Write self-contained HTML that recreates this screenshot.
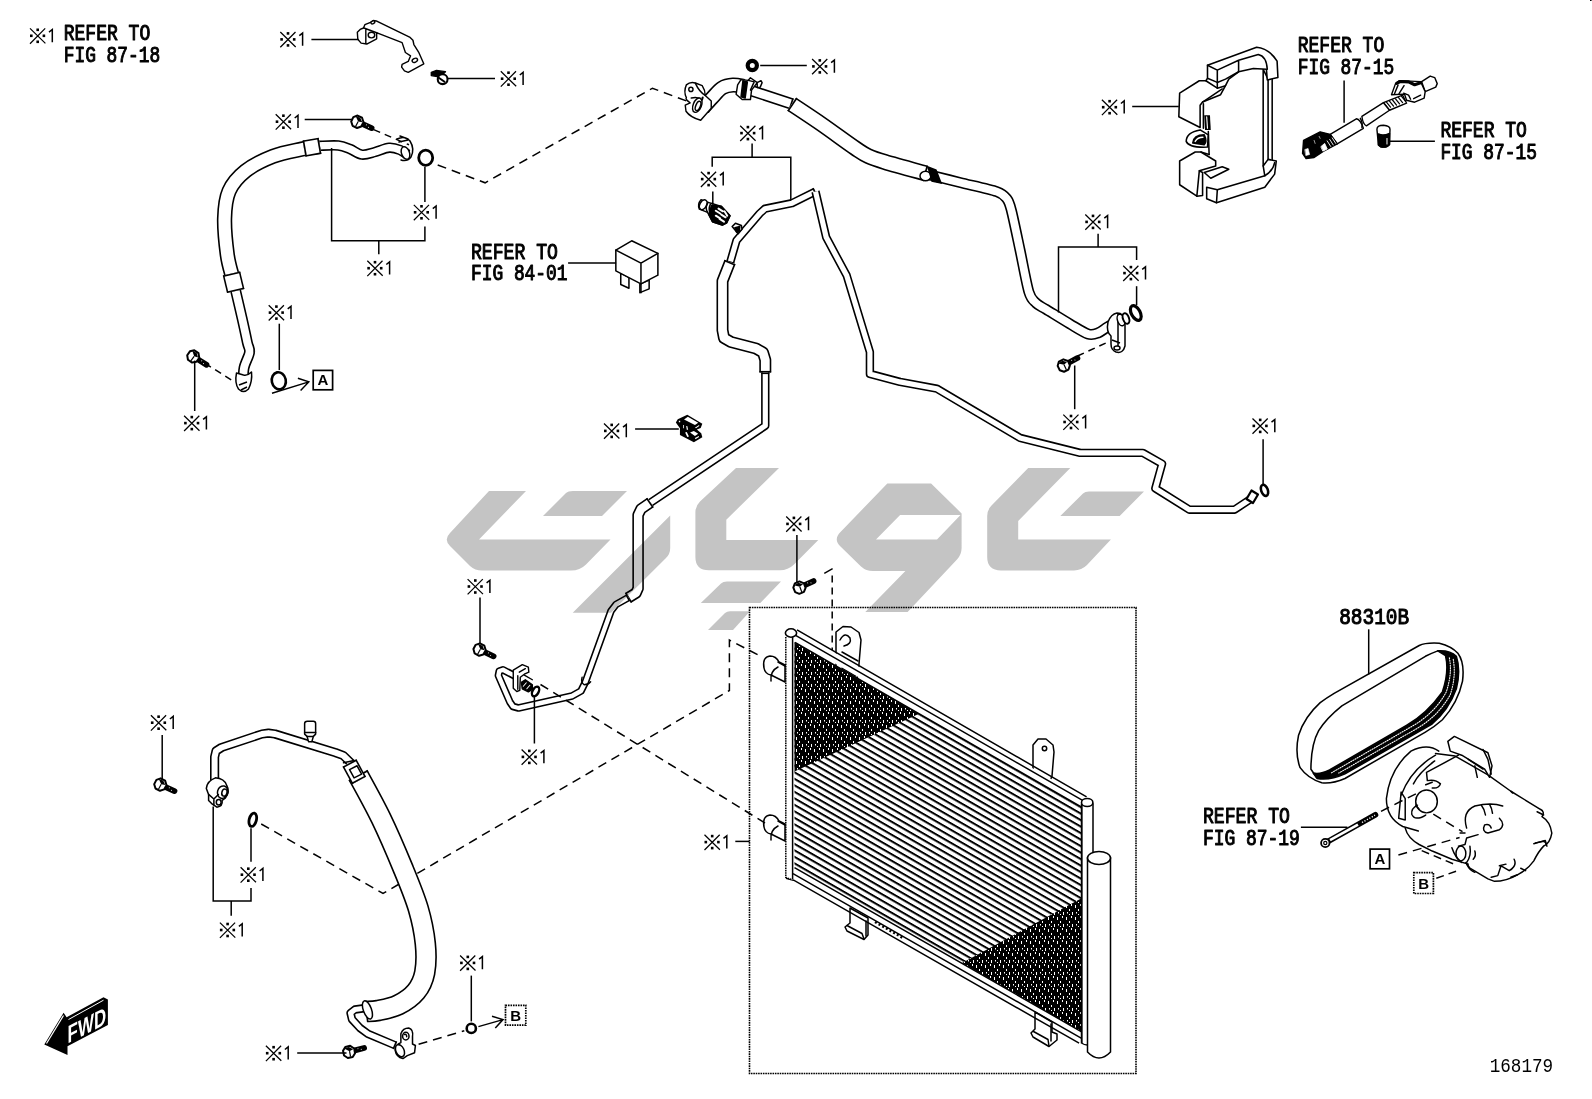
<!DOCTYPE html>
<html><head><meta charset="utf-8"><title>168179</title>
<style>
html,body{margin:0;padding:0;background:#fff;}
svg{display:block;}
.t{font-family:"Liberation Mono",monospace;font-weight:normal;font-size:18px;fill:#000;stroke:#000;stroke-width:0.85px;stroke-linejoin:round;}
.n{font-family:"Liberation Sans",sans-serif;font-size:17.5px;fill:#000;}
.ln{stroke:#000;stroke-width:1.5;fill:none;}
.dl{stroke:#000;stroke-width:1.5;fill:none;stroke-dasharray:9 6;}
.p{stroke:#000;stroke-width:1.5;fill:#fff;stroke-linejoin:round;stroke-linecap:round;}
.o{stroke:#000;stroke-width:1.5;fill:none;stroke-linejoin:round;stroke-linecap:round;}
.k{fill:#000;stroke:none;}
</style></head><body>
<svg width="1592" height="1099" viewBox="0 0 1592 1099">
<rect width="1592" height="1099" fill="#fff"/>
<rect x="1590" y="0" width="1.6" height="1" fill="#000"/>
<!-- defs.svg -->
<defs>
  <g id="ast">
    <path d="M0.3,0.5 L15.7,15.5 M15.5,0.5 L0.3,15.8" stroke="#000" stroke-width="1.25" fill="none"/>
    <rect x="6.7" y="0.6" width="2.6" height="2.6" fill="#000"/>
    <rect x="0.3" y="6.6" width="2.6" height="2.6" fill="#000"/>
    <rect x="12.9" y="6.6" width="2.6" height="2.6" fill="#000"/>
    <rect x="6.7" y="12.6" width="2.6" height="2.6" fill="#000"/>
    <path d="M19.3,4.2 L22.6,1.6 L22.6,14.3" stroke="#000" stroke-width="1.5" fill="none"/>
  </g>
  <!-- generic small bolt: head at origin, thread to the right/up -->
  <g id="bolt">
    <path d="M4,0 L15.5,0" stroke="#000" stroke-width="5.8" fill="none" stroke-linecap="round"/>
    <path d="M9,-0.8 L9.8,-0.8 M12,0.6 L12.8,0.6" stroke="#fff" stroke-width="1" fill="none"/>
    <path d="M-5.6,-2.6 L-2.4,-5.8 L2.6,-5.6 L5.8,-2 L5.4,2.8 L2.2,5.8 L-2.8,5.6 L-5.8,2.2 Z" fill="#fff" stroke="#000" stroke-width="2" stroke-linejoin="round"/>
    <path d="M-4,-4.5 L1,-4.8 L4.6,-1.6 L0.6,-0.6 Z" fill="#000"/>
    <path d="M0.6,-0.6 L0.2,5" stroke="#000" stroke-width="1.2" fill="none"/>
  </g>
  <pattern id="fins" width="40" height="6.5" patternUnits="userSpaceOnUse" patternTransform="translate(794.5,641.2) skewY(29.92)">
    <rect x="0" y="0" width="40" height="2.3" fill="#000"/>
  </pattern>
  <pattern id="specks" width="9" height="12" patternUnits="userSpaceOnUse" patternTransform="translate(795,640)">
    <rect width="9" height="12" fill="#000"/>
    <rect x="1" y="1" width="1" height="3" fill="#fff"/>
    <rect x="4" y="5" width="1" height="2" fill="#fff"/>
    <rect x="6" y="0" width="1" height="2" fill="#fff"/>
    <rect x="2" y="8" width="1" height="1.5" fill="#fff"/>
    <rect x="7" y="8" width="1" height="3" fill="#fff"/>
    <rect x="4" y="10" width="1" height="1" fill="#fff"/>
  </pattern>
</defs>

<!-- under.svg -->
<g class="dl" stroke-width="1.4">
  <path d="M261.2,824 L383,893.5 L729.4,690.5 L729.4,640 L762,657"/>
</g>

<!-- hoses.svg -->
<g>
<path d="M318.0,145.8 C321.4,145.8 333.0,145.0 338.3,145.5 C343.6,146.0 346.1,147.5 350.0,149.0 C353.9,150.5 357.7,154.1 361.9,154.6 C366.1,155.1 370.4,153.2 375.0,152.0 C379.6,150.8 385.0,148.0 389.2,147.7 C393.4,147.4 397.1,148.8 400.1,150.0 C403.1,151.2 406.2,153.8 407.4,154.6" fill="none" stroke="#000" stroke-width="10.5" stroke-linejoin="round" stroke-linecap="butt"/>
<path d="M318.0,145.8 C321.4,145.8 333.0,145.0 338.3,145.5 C343.6,146.0 346.1,147.5 350.0,149.0 C353.9,150.5 357.7,154.1 361.9,154.6 C366.1,155.1 370.4,153.2 375.0,152.0 C379.6,150.8 385.0,148.0 389.2,147.7 C393.4,147.4 397.1,148.8 400.1,150.0 C403.1,151.2 406.2,153.8 407.4,154.6" fill="none" stroke="#fff" stroke-width="7.3" stroke-linejoin="round" stroke-linecap="butt"/>
<path d="M318.9,150.8 L318.7,140.7" stroke="#000" stroke-width="1.6" fill="none"/>
<path d="M409.4,149.9 L404.0,158.4" stroke="#000" stroke-width="1.6" fill="none"/>
<path d="M235.0,288.0 C236.2,293.0 239.9,308.9 242.0,318.0 C244.1,327.1 246.2,337.1 247.4,342.8 C248.7,348.5 250.1,348.2 249.5,352.4 C248.9,356.6 245.0,362.8 244.0,368.0 C243.0,373.2 243.4,381.2 243.3,383.8" fill="none" stroke="#000" stroke-width="11.0" stroke-linejoin="round" stroke-linecap="butt"/>
<path d="M235.0,288.0 C236.2,293.0 239.9,308.9 242.0,318.0 C244.1,327.1 246.2,337.1 247.4,342.8 C248.7,348.5 250.1,348.2 249.5,352.4 C248.9,356.6 245.0,362.8 244.0,368.0 C243.0,373.2 243.4,381.2 243.3,383.8" fill="none" stroke="#fff" stroke-width="7.8" stroke-linejoin="round" stroke-linecap="butt"/>
<path d="M230.0,290.0 L240.3,287.6" stroke="#000" stroke-width="1.6" fill="none"/>
<path d="M248.6,383.2 L238.0,382.8" stroke="#000" stroke-width="1.6" fill="none"/>
<path d="M319.2,146.4 C316.3,146.8 309.6,147.4 301.9,149.1 C294.2,150.8 282.2,152.8 272.8,156.4 C263.4,160.1 252.8,165.2 245.5,171.0 C238.2,176.8 232.6,183.1 229.1,191.0 C225.6,198.9 224.9,207.7 224.6,218.3 C224.3,228.9 226.0,244.9 227.3,254.7 C228.6,264.5 231.6,273.3 232.5,277.0" fill="none" stroke="#000" stroke-width="15.4" stroke-linejoin="round" stroke-linecap="butt"/>
<path d="M319.2,146.4 C316.3,146.8 309.6,147.4 301.9,149.1 C294.2,150.8 282.2,152.8 272.8,156.4 C263.4,160.1 252.8,165.2 245.5,171.0 C238.2,176.8 232.6,183.1 229.1,191.0 C225.6,198.9 224.9,207.7 224.6,218.3 C224.3,228.9 226.0,244.9 227.3,254.7 C228.6,264.5 231.6,273.3 232.5,277.0" fill="none" stroke="#fff" stroke-width="12.2" stroke-linejoin="round" stroke-linecap="butt"/>
<path d="M317.3,139.1 L319.6,153.9" stroke="#000" stroke-width="1.6" fill="none"/>
<path d="M239.6,274.5 L225.0,277.9" stroke="#000" stroke-width="1.6" fill="none"/>
<path d="M231.5,273.5 L235.7,291.0" fill="none" stroke="#000" stroke-width="18.0" stroke-linejoin="round" stroke-linecap="butt"/>
<path d="M231.5,273.5 L235.7,291.0" fill="none" stroke="#fff" stroke-width="14.8" stroke-linejoin="round" stroke-linecap="butt"/>
<path d="M223.1,276.3 L240.2,272.2" stroke="#000" stroke-width="1.6" fill="none"/>
<path d="M244.1,288.2 L227.0,292.3" stroke="#000" stroke-width="1.6" fill="none"/>
<path d="M304.0,148.6 L320.0,145.8" fill="none" stroke="#000" stroke-width="16.5" stroke-linejoin="round" stroke-linecap="butt"/>
<path d="M304.0,148.6 L320.0,145.8" fill="none" stroke="#fff" stroke-width="13.3" stroke-linejoin="round" stroke-linecap="butt"/>
<path d="M306.2,156.4 L303.4,140.5" stroke="#000" stroke-width="1.6" fill="none"/>
<path d="M317.8,138.0 L320.6,153.9" stroke="#000" stroke-width="1.6" fill="none"/>
<path d="M703.0,108.0 C704.5,106.3 708.8,101.3 712.0,98.0 C715.2,94.7 718.5,90.2 722.0,88.0 C725.5,85.8 729.3,85.2 733.0,85.0 C736.7,84.8 742.2,86.2 744.0,86.5" fill="none" stroke="#000" stroke-width="15.0" stroke-linejoin="round" stroke-linecap="butt"/>
<path d="M703.0,108.0 C704.5,106.3 708.8,101.3 712.0,98.0 C715.2,94.7 718.5,90.2 722.0,88.0 C725.5,85.8 729.3,85.2 733.0,85.0 C736.7,84.8 742.2,86.2 744.0,86.5" fill="none" stroke="#fff" stroke-width="11.8" stroke-linejoin="round" stroke-linecap="butt"/>
<path d="M709.0,112.3 L698.1,102.5" stroke="#000" stroke-width="1.6" fill="none"/>
<path d="M744.2,79.2 L742.2,93.6" stroke="#000" stroke-width="1.6" fill="none"/>
<path d="M748.6,89.7 L792.0,104.0" fill="none" stroke="#000" stroke-width="11.5" stroke-linejoin="round" stroke-linecap="butt"/>
<path d="M748.6,89.7 L792.0,104.0" fill="none" stroke="#fff" stroke-width="8.3" stroke-linejoin="round" stroke-linecap="butt"/>
<path d="M747.6,95.2 L751.1,84.7" stroke="#000" stroke-width="1.6" fill="none"/>
<path d="M793.0,98.5 L789.5,109.0" stroke="#000" stroke-width="1.6" fill="none"/>
<path d="M930.0,175.0 C934.5,176.1 950.0,180.0 960.0,182.5 C970.0,185.0 989.8,189.1 996.8,191.6 C1003.8,194.1 1004.8,196.2 1007.0,199.0 C1009.2,201.8 1009.4,202.8 1011.4,210.5 C1013.4,218.2 1017.4,237.8 1020.0,250.0 C1022.6,262.2 1026.5,284.1 1028.9,292.0 C1031.3,299.9 1033.4,300.4 1036.0,303.0 C1038.6,305.6 1041.2,306.4 1046.3,309.5 C1051.4,312.6 1063.7,320.3 1070.0,324.0 C1076.3,327.7 1083.8,332.6 1088.0,334.0 C1092.2,335.4 1095.1,334.1 1098.0,333.0 C1100.9,331.9 1104.7,328.6 1107.5,327.0 C1110.3,325.4 1115.6,322.8 1117.0,322.0" fill="none" stroke="#000" stroke-width="11.0" stroke-linejoin="round" stroke-linecap="butt"/>
<path d="M930.0,175.0 C934.5,176.1 950.0,180.0 960.0,182.5 C970.0,185.0 989.8,189.1 996.8,191.6 C1003.8,194.1 1004.8,196.2 1007.0,199.0 C1009.2,201.8 1009.4,202.8 1011.4,210.5 C1013.4,218.2 1017.4,237.8 1020.0,250.0 C1022.6,262.2 1026.5,284.1 1028.9,292.0 C1031.3,299.9 1033.4,300.4 1036.0,303.0 C1038.6,305.6 1041.2,306.4 1046.3,309.5 C1051.4,312.6 1063.7,320.3 1070.0,324.0 C1076.3,327.7 1083.8,332.6 1088.0,334.0 C1092.2,335.4 1095.1,334.1 1098.0,333.0 C1100.9,331.9 1104.7,328.6 1107.5,327.0 C1110.3,325.4 1115.6,322.8 1117.0,322.0" fill="none" stroke="#fff" stroke-width="7.8" stroke-linejoin="round" stroke-linecap="butt"/>
<path d="M929.5,180.3 L932.1,170.1" stroke="#000" stroke-width="1.6" fill="none"/>
<path d="M1113.8,317.7 L1118.8,327.1" stroke="#000" stroke-width="1.6" fill="none"/>
<path d="M791.7,104.2 C796.8,107.6 811.5,117.2 822.0,124.5 C832.5,131.8 847.3,142.8 855.0,148.0 C862.7,153.2 863.0,153.7 868.0,156.0 C873.0,158.3 875.3,159.1 885.0,162.0 C894.7,164.9 919.2,171.6 926.0,173.5" fill="none" stroke="#000" stroke-width="16.0" stroke-linejoin="round" stroke-linecap="butt"/>
<path d="M791.7,104.2 C796.8,107.6 811.5,117.2 822.0,124.5 C832.5,131.8 847.3,142.8 855.0,148.0 C862.7,153.2 863.0,153.7 868.0,156.0 C873.0,158.3 875.3,159.1 885.0,162.0 C894.7,164.9 919.2,171.6 926.0,173.5" fill="none" stroke="#fff" stroke-width="12.8" stroke-linejoin="round" stroke-linecap="butt"/>
<path d="M788.0,111.1 L796.7,98.2" stroke="#000" stroke-width="1.6" fill="none"/>
<path d="M927.3,165.8 L923.1,180.8" stroke="#000" stroke-width="1.6" fill="none"/>
<path d="M815.5,191.5 L792.0,203.2 L765.0,208.7 L759.7,213.5 L736.5,240.5 L730.0,263.0" fill="none" stroke="#000" stroke-width="8.4" stroke-linejoin="round" stroke-linecap="butt"/>
<path d="M815.5,191.5 L792.0,203.2 L765.0,208.7 L759.7,213.5 L736.5,240.5 L730.0,263.0" fill="none" stroke="#fff" stroke-width="5.2" stroke-linejoin="round" stroke-linecap="butt"/>
<path d="M813.0,188.3 L816.6,195.4" stroke="#000" stroke-width="1.6" fill="none"/>
<path d="M734.1,263.3 L726.4,261.1" stroke="#000" stroke-width="1.6" fill="none"/>
<path d="M815.5,191.5 L826.2,237.3 L846.7,275.6 L869.9,352.0 L869.9,373.9 L900.0,381.9 L936.9,388.7 L1020.1,437.9 L1080.2,452.9 L1143.0,452.9 L1162.1,463.8 L1155.3,488.4 L1189.4,509.7 L1234.5,509.7 L1252.2,498.0" fill="none" stroke="#000" stroke-width="8.4" stroke-linejoin="round" stroke-linecap="butt"/>
<path d="M815.5,191.5 L826.2,237.3 L846.7,275.6 L869.9,352.0 L869.9,373.9 L900.0,381.9 L936.9,388.7 L1020.1,437.9 L1080.2,452.9 L1143.0,452.9 L1162.1,463.8 L1155.3,488.4 L1189.4,509.7 L1234.5,509.7 L1252.2,498.0" fill="none" stroke="#fff" stroke-width="5.2" stroke-linejoin="round" stroke-linecap="butt"/>
<path d="M1249.3,495.1 L1253.7,501.8" stroke="#000" stroke-width="1.6" fill="none"/>
<path d="M730.0,262.0 L722.5,281.0 L722.5,330.2 L724.0,338.0 L731.0,342.0 L756.0,348.5 L763.0,352.5 L765.3,360.0 L765.3,372.5" fill="none" stroke="#000" stroke-width="12.0" stroke-linejoin="round" stroke-linecap="butt"/>
<path d="M730.0,262.0 L722.5,281.0 L722.5,330.2 L724.0,338.0 L731.0,342.0 L756.0,348.5 L763.0,352.5 L765.3,360.0 L765.3,372.5" fill="none" stroke="#fff" stroke-width="8.8" stroke-linejoin="round" stroke-linecap="butt"/>
<path d="M724.3,260.6 L735.1,264.9" stroke="#000" stroke-width="1.6" fill="none"/>
<path d="M771.1,371.7 L759.5,371.7" stroke="#000" stroke-width="1.6" fill="none"/>
<path d="M765.3,372.5 L765.3,425.7 L650.0,503.0 L643.5,507.0 L640.0,510.0" fill="none" stroke="#000" stroke-width="8.4" stroke-linejoin="round" stroke-linecap="butt"/>
<path d="M765.3,372.5 L765.3,425.7 L650.0,503.0 L643.5,507.0 L640.0,510.0" fill="none" stroke="#fff" stroke-width="5.2" stroke-linejoin="round" stroke-linecap="butt"/>
<path d="M761.3,373.3 L769.3,373.3" stroke="#000" stroke-width="1.6" fill="none"/>
<path d="M643.2,512.5 L638.0,506.4" stroke="#000" stroke-width="1.6" fill="none"/>
<path d="M650.5,502.5 L641.0,509.0 L638.1,515.0 L638.1,588.4 L636.0,593.0 L627.9,598.0" fill="none" stroke="#000" stroke-width="11.5" stroke-linejoin="round" stroke-linecap="butt"/>
<path d="M650.5,502.5 L641.0,509.0 L638.1,515.0 L638.1,588.4 L636.0,593.0 L627.9,598.0" fill="none" stroke="#fff" stroke-width="8.3" stroke-linejoin="round" stroke-linecap="butt"/>
<path d="M646.7,498.4 L653.0,507.5" stroke="#000" stroke-width="1.6" fill="none"/>
<path d="M631.5,602.3 L625.7,592.9" stroke="#000" stroke-width="1.6" fill="none"/>
<path d="M628.5,597.5 L616.0,604.5 L611.0,611.0 L585.3,682.3 L581.0,691.0 L572.0,696.0 L518.5,708.0 L513.0,706.5 L509.9,702.0 L498.4,675.5 L499.3,671.0 L503.0,669.8 L516.0,676.5" fill="none" stroke="#000" stroke-width="7.6" stroke-linejoin="round" stroke-linecap="butt"/>
<path d="M628.5,597.5 L616.0,604.5 L611.0,611.0 L585.3,682.3 L581.0,691.0 L572.0,696.0 L518.5,708.0 L513.0,706.5 L509.9,702.0 L498.4,675.5 L499.3,671.0 L503.0,669.8 L516.0,676.5" fill="none" stroke="#fff" stroke-width="4.4" stroke-linejoin="round" stroke-linecap="butt"/>
<path d="M626.0,594.7 L629.6,601.0" stroke="#000" stroke-width="1.6" fill="none"/>
<path d="M516.9,672.9 L513.6,679.3" stroke="#000" stroke-width="1.6" fill="none"/>
<path d="M214.6,784.0 L214.6,757.0 L216.0,751.0 L221.5,747.5 L262.0,734.0 L268.5,733.1 L275.0,734.0 L335.5,752.6 L343.3,755.5 L352.0,764.0" fill="none" stroke="#000" stroke-width="9.2" stroke-linejoin="round" stroke-linecap="butt"/>
<path d="M214.6,784.0 L214.6,757.0 L216.0,751.0 L221.5,747.5 L262.0,734.0 L268.5,733.1 L275.0,734.0 L335.5,752.6 L343.3,755.5 L352.0,764.0" fill="none" stroke="#fff" stroke-width="6.0" stroke-linejoin="round" stroke-linecap="butt"/>
<path d="M219.0,783.2 L210.2,783.2" stroke="#000" stroke-width="1.6" fill="none"/>
<path d="M354.5,760.3 L348.4,766.6" stroke="#000" stroke-width="1.6" fill="none"/>
<path d="M366.0,1008.0 L355.0,1009.5 L350.5,1013.0 L352.0,1019.3 L360.0,1028.0 L368.0,1033.8 L395.6,1045.5" fill="none" stroke="#000" stroke-width="8.4" stroke-linejoin="round" stroke-linecap="butt"/>
<path d="M366.0,1008.0 L355.0,1009.5 L350.5,1013.0 L352.0,1019.3 L360.0,1028.0 L368.0,1033.8 L395.6,1045.5" fill="none" stroke="#fff" stroke-width="5.2" stroke-linejoin="round" stroke-linecap="butt"/>
<path d="M364.7,1004.1 L365.7,1012.1" stroke="#000" stroke-width="1.6" fill="none"/>
<path d="M396.4,1041.5 L393.3,1048.9" stroke="#000" stroke-width="1.6" fill="none"/>
<path d="M358.0,775.0 C361.9,782.2 373.6,803.0 381.1,818.5 C388.6,834.0 396.7,853.0 402.9,868.0 C409.1,883.0 414.6,896.1 418.3,908.7 C422.0,921.3 424.2,932.9 425.3,943.6 C426.4,954.3 426.2,964.7 424.7,972.7 C423.1,980.7 420.4,986.3 416.0,991.6 C411.6,996.9 404.8,1001.6 398.5,1004.7 C392.2,1007.9 383.6,1009.4 378.2,1010.5 C372.8,1011.6 368.0,1011.3 366.0,1011.5" fill="none" stroke="#000" stroke-width="21.7" stroke-linejoin="round" stroke-linecap="butt"/>
<path d="M358.0,775.0 C361.9,782.2 373.6,803.0 381.1,818.5 C388.6,834.0 396.7,853.0 402.9,868.0 C409.1,883.0 414.6,896.1 418.3,908.7 C422.0,921.3 424.2,932.9 425.3,943.6 C426.4,954.3 426.2,964.7 424.7,972.7 C423.1,980.7 420.4,986.3 416.0,991.6 C411.6,996.9 404.8,1001.6 398.5,1004.7 C392.2,1007.9 383.6,1009.4 378.2,1010.5 C372.8,1011.6 368.0,1011.3 366.0,1011.5" fill="none" stroke="#fff" stroke-width="18.5" stroke-linejoin="round" stroke-linecap="butt"/>
<path d="M349.0,780.7 L367.8,770.7" stroke="#000" stroke-width="1.6" fill="none"/>
<path d="M367.7,1022.0 L365.9,1000.8" stroke="#000" stroke-width="1.6" fill="none"/>
<path d="M349.5,763.0 L359.0,780.5" fill="none" stroke="#000" stroke-width="16.0" stroke-linejoin="round" stroke-linecap="butt"/>
<path d="M349.5,763.0 L359.0,780.5" fill="none" stroke="#fff" stroke-width="12.8" stroke-linejoin="round" stroke-linecap="butt"/>
<path d="M343.0,767.4 L356.7,760.0" stroke="#000" stroke-width="1.6" fill="none"/>
<path d="M365.5,776.1 L351.8,783.5" stroke="#000" stroke-width="1.6" fill="none"/>
</g>

<!-- condenser.svg -->
<g>
  <!-- dotted box -->
  <rect x="749.5" y="607.5" width="386.5" height="466" fill="none" stroke="#000" stroke-width="1.6" stroke-dasharray="1.6 0.8"/>
  <!-- brackets behind -->
  <path class="p" d="M836,668 L836,632 L843,626.5 L851,627 L859,632.5 L861,640 L858,676 L852,690"/>
  <path class="o" d="M840,640 q5,-9 10,-2 q2,6 -6,8 M842,652 L858,661 M842,660 L858,669 M842,668 L856,676"/>
  <path class="p" d="M1033,770 L1033,745 L1038,739 L1046,739 L1053,745 L1054,752 L1052,776 L1048,786 Z"/>
  <circle cx="1044.5" cy="748.5" r="2.2" class="o"/>
  <path class="p" d="M850,908 L850,923 L845,927 L847,931 L864,939.5 L868,935 L868,918 Z"/>
  <path class="o" d="M847,925.5 L862,933.5 L864,939 M866,921 L866,936"/>
  <path class="p" d="M1035,1012 L1035,1029 L1031,1033 L1033,1037 L1049,1046.5 L1057,1040 L1057,1034 L1052,1032 L1052,1022 Z"/>
  <path class="o" d="M1033.5,1031.5 L1048,1039.5 L1049,1046 M1051,1024 L1051,1041"/>
  <!-- core -->
  <path d="M794.5,642 L1082,807.5 L1082,1032 L794.5,867.7 Z" fill="#fff"/>
  <path d="M794.5,642 L1082,807.5 L1082,1032 L794.5,867.7 Z" fill="url(#fins)"/>
  <path d="M794.5,643 L918.5,714 L794.5,771.5 Z" fill="url(#specks)"/>
  <path d="M1082,898 L1082,1032 L962,963 Z" fill="url(#specks)"/>
  <!-- top frame band -->
  <path d="M792,633 L1084,803.5" stroke="#fff" stroke-width="9" fill="none"/>
  <path d="M797,629.8 L1086.6,796.9 M793,633.8 L1083,800.7 M795,642.3 L1083,808" class="ln" stroke-width="1.9"/>
  <!-- bottom frame lines -->
  <path d="M794.5,867.7 L1081.6,1031.8 M793,873.6 L1081.6,1038.4 M786,878.3 L793.7,880.2 L1079.1,1043.2" class="ln" stroke-width="1.9"/>
  <!-- left tank -->
  <path d="M785.5,637 L785.5,877 L792.5,880 L792.5,637" fill="#fff" stroke="none"/>
  <path d="M785.8,637 L785.8,877.5 L792.5,880" class="ln" stroke-dasharray="1.6 0.8"/>
  <path d="M792.6,634 L792.6,879" class="ln" stroke-width="2"/>
  <ellipse cx="791" cy="633" rx="5.6" ry="4.2" fill="#fff" stroke="#000" stroke-width="1.6"/>
  <!-- inlet stubs on left -->
  <path class="p" d="M764,668 q-2,-11 6,-12 q6,0 9,6 l6,3 l0,17 l-14,-7 q-6,-1 -7,-7 Z"/>
  <path class="o" d="M771,681 q-1,-10 7,-14 M778,662 l7,4"/>
  <path class="p" d="M764,827 q-2,-11 6,-12 q6,0 9,6 l6,3 l0,17 l-14,-7 q-6,-1 -7,-7 Z"/>
  <path class="o" d="M771,840 q-1,-10 7,-14 M778,821 l7,4"/>
  <!-- right tank -->
  <path d="M1081.5,804 L1081.5,1043 Q1087,1047 1093,1043 L1093,804 Q1087,795 1081.5,804 Z" fill="#fff" stroke="#000" stroke-width="1.5"/>
  <path d="M1081.8,804 L1081.8,1043" class="ln" stroke-width="2.2"/>
  <ellipse cx="1087.2" cy="802.5" rx="5.7" ry="4" fill="#fff" stroke="#000" stroke-width="1.6"/>
  <!-- receiver -->
  <path d="M1087.5,858 L1087.5,1052 Q1099,1064 1110.5,1052 L1110.5,858 Z" fill="#fff" stroke="#000" stroke-width="1.5"/>
  <ellipse cx="1099" cy="858" rx="11.5" ry="6.5" fill="#fff" stroke="#000" stroke-width="1.6"/>
  <!-- little label dots on bottom frame -->
  <path d="M875,922 L904,938.6" stroke="#000" stroke-width="2.4" stroke-dasharray="2 2.2" fill="none"/>
</g>

<!-- parts_small.svg -->
<!-- bracket top-left : zoom origin (330,20) scale 10.61 -->
<g transform="translate(330,20) scale(0.09425)" stroke="#000" stroke-width="15" fill="#fff" stroke-linejoin="round" stroke-linecap="round">
  <path d="M290,130 L320,100 L355,85 L370,50 L430,25 L460,5 L490,10 L850,185 L880,215 L890,260 L940,340 L995,465 L830,555 L790,540 L760,500 L765,470 L830,440 L855,380 L800,345 L765,240 L520,145 L495,135 L495,200 L390,255 L330,245 L295,205 Z"/>
  <path d="M380,100 L380,250 M360,85 L495,135" fill="none"/>
  <ellipse cx="440" cy="160" rx="35" ry="30" fill="none"/>
  <ellipse cx="900" cy="428" rx="30" ry="20" transform="rotate(-25 900 428)"/>
  <ellipse cx="455" cy="25" rx="22" ry="14" transform="rotate(-25 455 25)"/>
  <!-- bolt -->
  <path d="M1075,555 L1130,535 L1225,548 L1165,605 L1075,590 Z" fill="#000"/>
  <circle cx="1195" cy="628" r="52" fill="#fff" stroke-width="22"/>
  <path d="M1150,610 L1215,655" stroke-width="22"/>
</g>
<!-- hose B left flange & collar: zoom origin (660,60) scale 13.27 -->
<g transform="translate(660,60) scale(0.07536)" stroke="#000" stroke-width="19" fill="#fff" stroke-linejoin="round" stroke-linecap="round">
  <path d="M350,330 Q400,285 470,305 L560,340 Q600,400 600,470 L680,545 L680,640 L540,800 Q400,760 345,680 L335,600 L400,570 Q330,520 350,500 Q310,420 350,330 Z"/>
  <path d="M470,310 Q520,420 600,470 M415,505 Q500,480 560,530 Q580,480 560,500" fill="none"/>
  <circle cx="410" cy="390" r="28"/>
  <ellipse cx="495" cy="600" rx="55" ry="100" transform="rotate(22 495 600)"/>
  <ellipse cx="505" cy="610" rx="30" ry="65" transform="rotate(22 505 610)"/>
  <path d="M1075,260 L1030,330 L1010,455 L1090,525 L1200,525 L1215,400 L1290,300 L1340,275 L1355,300 L1330,360 L1290,365 L1290,300 L1200,235 L1170,270 Z"/>
  <path d="M1100,275 L1160,290 L1130,505 L1075,490 Z" fill="#000"/>
  <path d="M1170,270 L1250,290 L1200,400" fill="none"/>
</g>
<!-- nut above hose B -->
<circle cx="752.3" cy="65.5" r="4.6" fill="#fff" stroke="#000" stroke-width="4.2"/>
<!-- clamp on hose B (927,172) -->
<g stroke="#000" stroke-width="1.5" fill="#fff">
  <ellipse cx="925.5" cy="176" rx="5.5" ry="4.8"/>
  <path d="M928,167 L936,170 L941,183 L932,181 Z" fill="#000"/>
</g>
<!-- hose B right flange (1119,321) -->
<g stroke="#000" stroke-width="1.5" fill="#fff" stroke-linejoin="round">
  <path d="M1108,322 q3,-8 9,-9 q7,0 8,9 l0,24 q-2,8 -9,6 q-5,-2 -5,-8 l0,-8 q-5,-4 -3,-14 Z"/>
  <path d="M1118,314 l0,32 M1112,340 l8,3" fill="none"/>
  <ellipse cx="1121" cy="320" rx="3.5" ry="6" transform="rotate(-20 1121 320)"/>
  <ellipse cx="1126" cy="318.5" rx="3" ry="5.5" transform="rotate(-20 1126 318.5)" stroke-width="2"/>
  <ellipse cx="1117" cy="348" rx="3" ry="2"/>
</g>
<!-- O rings -->
<g fill="#fff" stroke="#000">
  <ellipse cx="425.7" cy="157.7" rx="7" ry="7.6" stroke-width="2.8"/>
  <ellipse cx="278.8" cy="380.8" rx="7" ry="8.6" stroke-width="2.6" transform="rotate(-12 278.8 380.8)"/>
  <ellipse cx="1135.8" cy="313" rx="4.4" ry="8" stroke-width="3.2" transform="rotate(-28 1135.8 313)"/>
  <ellipse cx="1264.5" cy="490.3" rx="3.3" ry="5.8" stroke-width="2.6" transform="rotate(-20 1264.5 490.3)"/>
  <path d="M1246.5,499 L1251.5,490.5 L1258,494.5 L1253,503 Z" stroke-width="2.2" stroke-linejoin="round"/>
  <ellipse cx="535.5" cy="691.5" rx="2.6" ry="4.6" stroke-width="2.4" transform="rotate(25 535.5 691.5)"/>
  <ellipse cx="252.8" cy="819.8" rx="3.6" ry="6.8" stroke-width="2.8" transform="rotate(14 252.8 819.8)"/>
  <circle cx="471.3" cy="1028.4" r="4.6" stroke-width="2.6"/>
</g>
<!-- bolts -->
<use href="#bolt" transform="translate(357.4,121.8) rotate(23.8)"/>
<use href="#bolt" transform="translate(193.3,356.5) rotate(32)"/>
<use href="#bolt" transform="translate(1063.8,365.5) rotate(-28.7)"/>
<use href="#bolt" transform="translate(799.5,587.6) rotate(-25)"/>
<use href="#bolt" transform="translate(479.6,649.6) rotate(25.6)"/>
<use href="#bolt" transform="translate(160.4,784.6) rotate(24.8)"/>
<use href="#bolt" transform="translate(349.1,1051.9) rotate(-14.8)"/>
<!-- hose A top flange -->
<g stroke="#000" stroke-width="1.5" fill="#fff" stroke-linejoin="round" stroke-linecap="round">
  <path d="M397,139 q8,-4 13,2 q5,8 1,16 q-4,5 -10,3 M399,142 l9,-2 M400,136 l8,3" fill="none"/>
  <ellipse cx="405.5" cy="153" rx="4" ry="6.5" transform="rotate(-20 405.5 153)"/>
</g>
<!-- hose A bottom fitting -->
<g stroke="#000" stroke-width="1.5" fill="#fff" stroke-linejoin="round">
  <path d="M236.5,373 q-2,10 2,16 q5,5 10,0 q4,-8 3,-17 q-4,4 -8,3 Z"/>
  <path d="M239,385 l8,-3 M241,390 l6,-3" fill="none"/>
</g>

<!-- relay: zoom origin (600,190) scale 9.156 -->
<g transform="translate(600,190) scale(0.10922)" stroke="#000" stroke-width="14" fill="#fff" stroke-linejoin="round" stroke-linecap="round">
  <path d="M190,760 L190,865 L265,900 L265,800 Z"/>
  <path d="M365,860 L365,940 L450,905 L450,825 Z"/>
  <path d="M145,550 L290,465 L530,580 L530,780 L375,860 L145,740 Z"/>
  <path d="M145,550 L375,670 L530,580 M375,670 L375,940" fill="none"/>
  <!-- sensor -->
  <path d="M925,90 L1010,120 L1110,150 L1190,235 L1160,300 L1120,320 L1030,290 L985,205 L910,175 Q890,130 925,90 Z"/>
  <path d="M1020,140 L1110,150 L1190,235 L1160,300 L1120,320 L1030,290 L1000,230 Z" fill="#000"/>
  <path d="M1060,190 L1100,215 M1085,170 L1125,195 M1110,225 L1150,250 M1060,235 L1100,260 M1095,265 L1135,290 M1140,195 L1165,235" stroke="#fff" stroke-width="18" fill="none"/>
  <ellipse cx="945" cy="135" rx="30" ry="48" transform="rotate(28 945 135)" fill="#fff"/>
  <path d="M985,120 Q960,165 985,205 M1010,130 Q990,175 1010,215" fill="none"/>
  <!-- port on pipe -->
  <path d="M1210,335 L1240,305 L1295,325 L1300,360 L1265,400 Z" fill="#fff"/>
  <path d="M1235,345 L1280,335 L1275,380 L1250,385 Z" fill="#000"/>
</g>
<!-- clip : zoom origin (660,390) scale 18.31 -->
<g transform="translate(660,390) scale(0.054615)" stroke="none">
  <path d="M290,595 L325,535 L500,455 L775,620 L745,695 L675,722 L755,790 L775,865 L620,955 L365,825 L365,700 Z" fill="#000"/>
  <path d="M440,540 L510,490 L700,600 L640,640 Z M640,690 L715,640 L720,660 L660,700 Z M550,780 L620,750 L700,800 L640,840 Z M640,880 L710,840 L715,860 L650,900 Z M425,640 L440,640 L440,700 L425,700 Z M480,660 L500,660 L515,730 L490,730 Z M460,780 L490,770 L530,850 L500,860 Z M345,565 L370,565 L370,590 L345,590 Z" fill="#fff"/>
</g>
<!-- bracket + fitting at pipe M end : zoom origin (460,630) scale 9.95 -->
<g transform="translate(460,630) scale(0.1005)" stroke="#000" stroke-width="14" fill="#fff" stroke-linejoin="round" stroke-linecap="round">
  <path d="M530,400 L620,345 L680,370 L685,420 L640,440 L600,470 L595,600 L565,612 L530,580 Z"/>
  <path d="M575,455 L575,590 M590,420 L650,385 M640,450 L720,495" fill="none"/>
  <path d="M610,520 L650,495 L720,545 L720,590 L680,615 L620,585 Z" fill="#000"/>
  <path d="M630,560 L660,525 M665,585 L695,550" stroke="#fff" stroke-width="10" fill="none"/>
  <ellipse cx="752" cy="612" rx="30" ry="52" transform="rotate(28 752 612)" fill="#fff" stroke-width="24"/>
  <!-- small collar on pipe -->
  <path d="M1215,470 Q1200,520 1235,545 Q1275,545 1300,515" fill="none"/>
</g>
<!-- hose C fitting block, valve: zoom origin (140,710) scale 6.633 -->
<g transform="translate(140,710) scale(0.15076)" stroke="#000" stroke-width="10" fill="#fff" stroke-linejoin="round" stroke-linecap="round">
  <path d="M1092,90 Q1092,75 1110,75 L1150,75 Q1165,75 1165,90 L1165,160 L1150,175 L1140,210 L1118,210 L1108,175 L1092,160 Z"/>
  <path d="M1092,150 L1165,150 M1108,175 L1150,175" fill="none"/>
  <path d="M440,520 Q445,470 500,450 Q560,455 575,500 Q600,540 565,585 L545,600 Q550,640 510,645 L480,625 L455,600 L455,560 Z"/>
  <ellipse cx="548" cy="545" rx="34" ry="42" transform="rotate(15 548 545)"/>
  <ellipse cx="560" cy="548" rx="17" ry="24" transform="rotate(15 560 548)"/>
  <ellipse cx="522" cy="612" rx="16" ry="18"/>
  <path d="M455,560 L490,590 L490,630 M490,590 L520,560" fill="none"/>
  <!-- collar detail -->
  <path d="M1390,395 L1440,370 L1470,425 L1420,450 Z M1350,350 L1420,335" fill="none"/>
</g>
<!-- hose C bottom end cap + fitting: zoom origin (320,740) scale 3.4375 -->
<g transform="translate(320,740) scale(0.29091)" stroke="#000" stroke-width="5.2" fill="#fff" stroke-linejoin="round" stroke-linecap="round">
  <ellipse cx="163" cy="928" rx="14" ry="33" transform="rotate(-20 163 928)"/>
  <path d="M278,1010 Q285,990 305,990 Q322,995 318,1020 L318,1045 L328,1050 L325,1075 L300,1085 L285,1095 Q262,1090 258,1065 Q260,1048 278,1040 Z"/>
  <ellipse cx="295" cy="1018" rx="11" ry="13"/>
  <path d="M290,1012 q8,-2 8,8" fill="none"/>
  <ellipse cx="275" cy="1068" rx="14" ry="22" transform="rotate(-25 275 1068)"/>
</g>

<!-- parts_right.svg -->
<!-- insulator: zoom origin (1160,30) scale 6.106 -->
<g transform="translate(1160,30) scale(0.16377)" stroke="#000" stroke-width="9.5" fill="#fff" stroke-linejoin="round" stroke-linecap="round">
  <!-- back panel right verticals -->
  <path d="M630,240 L630,830 L660,800 L660,300 Z"/>
  <path d="M685,300 L685,790" fill="none"/>
  <!-- top block -->
  <path d="M290,215 L590,105 Q665,112 715,190 L720,290 L655,305 L650,240 L570,235 L480,255 L400,300 L350,320 L290,295 Z"/>
  <path d="M290,215 L350,245 L350,320 M350,245 L480,185 L600,150 Q650,160 655,240 M480,185 L480,250" fill="none"/>
  <!-- bottom block -->
  <path d="M285,960 L350,975 L640,890 L630,830 L660,790 L710,800 L700,880 L640,960 L345,1055 L285,1030 Z"/>
  <path d="M345,1055 L350,975 M640,890 Q690,860 700,810" fill="none"/>
  <!-- upper-left block -->
  <path d="M120,385 L240,310 L280,310 L350,355 L400,340 L370,395 L260,440 L245,460 L245,595 L115,530 Z"/>
  <path d="M280,310 L290,295 M350,355 L350,320 M265,450 L265,600 M260,440 L380,360 M400,340 L420,300 L480,255" fill="none"/>
  <!-- small dark tab -->
  <path d="M270,520 L305,520 L310,610 L275,610 Z" fill="#000" stroke="none"/>
  <path d="M285,530 L290,600" stroke="#fff" stroke-width="7" fill="none"/>
  <!-- clip -->
  <path d="M245,610 Q160,625 160,680 Q175,720 290,715 L295,640 Z"/>
  <path d="M200,690 Q205,640 270,640 Q290,680 270,700 Z" fill="#000"/>
  <path d="M215,680 Q230,655 262,655" stroke="#fff" stroke-width="9" fill="none"/>
  <path d="M295,620 L300,760" fill="none"/>
  <!-- lower-left block -->
  <path d="M120,800 L215,745 L250,745 L340,800 L340,830 L240,860 L225,1015 L120,945 Z"/>
  <path d="M240,860 L260,870 L260,1010 L225,1015 M250,745 L300,760" fill="none"/>
  <path d="M270,870 L380,835 L420,850 L310,905 Z"/>
</g>
<!-- top-right sensor: zoom origin (1290,60) scale 9.95 -->
<g transform="translate(1290,60) scale(0.1005)" stroke="#000" stroke-width="14" fill="#fff" stroke-linejoin="round" stroke-linecap="round">
  <!-- right connector -->
  <path d="M1310,215 L1395,160 L1440,175 L1465,235 L1450,270 L1345,315 Z"/>
  <path d="M1050,235 L1090,205 L1300,215 L1345,315 L1335,380 L1240,420 L1160,400 L1140,340 L1010,345 Z"/>
  <path d="M1062,232 L1095,214 L1180,218 L1240,246 L1300,226" fill="none" stroke-width="32"/>
  <path d="M1135,255 L1085,335 M1075,250 L1040,335" fill="none"/>
  <path d="M1130,330 L1180,350 L1200,390 M1230,385 L1300,350" fill="none"/>
  <!-- spring -->
  <path d="M930,425 L1120,350 L1160,430 L990,500 Z"/>
  <path d="M960,420 L1000,470 M990,410 L1030,460 M1020,398 L1060,448 M1050,386 L1090,436 M1080,374 L1120,424 M1110,362 L1150,412" fill="none" stroke-width="12"/>
  <!-- mid tube -->
  <path d="M715,560 L930,425 L990,500 L760,655 Q725,640 715,560 Z"/>
  <path d="M400,740 L660,585 Q700,590 730,680 L470,835 Z"/>
  <path d="M700,580 Q725,620 715,670" fill="none"/>
  <!-- left threaded end -->
  <path d="M135,800 L300,715 L400,740 L470,835 L330,910 L240,970 L160,980 L125,930 Z" fill="#000"/>
  <path d="M310,860 L345,830 L370,885 L330,905 Z M420,775 L455,830 M395,790 L430,845 M370,805 L405,860" fill="#fff" stroke="#fff" stroke-width="9"/>
  <path d="M150,890 L180,880 L195,940 L160,950 Z M240,800 L250,830 M290,760 L300,780" fill="#fff" stroke="#fff" stroke-width="6"/>
  <!-- small plug -->
  <path d="M865,690 Q865,650 930,650 Q995,655 995,690 L990,840 Q960,875 905,865 L880,845 Z"/>
  <path d="M880,735 Q925,760 990,730 L990,840 Q960,875 905,865 L880,845 Z" fill="#000"/>
  <path d="M965,780 L965,835" stroke="#fff" stroke-width="10" fill="none"/>
</g>
<!-- belt: zoom origin (1280,630) scale 6.465 -->
<g transform="translate(1280,630) scale(0.15468)" stroke="#000" stroke-width="10" fill="#fff" stroke-linejoin="round" stroke-linecap="round">
  <path d="M900,100 Q940,80 1030,85 Q1110,105 1150,150 Q1195,210 1180,330 Q1150,470 1050,580 Q1000,625 940,660 L420,960 Q340,995 270,988 Q180,960 130,890 Q95,800 120,680 Q160,560 260,470 Q300,440 350,410 Z"/>
  <path d="M1020,135 Q1100,130 1140,170 Q1170,260 1140,380 Q1090,520 980,610 L420,930 Q320,975 240,960 L215,925 Q260,935 320,905 L820,615 Q950,540 1050,400 Q1095,270 1070,165 Z" fill="#000"/>
  <path d="M1095,180 Q1115,280 1075,400 Q1000,540 850,625 L330,925 M1120,190 Q1140,300 1100,420 Q1020,560 880,640 L380,925" fill="none" stroke="#fff" stroke-width="7" stroke-dasharray="7 9"/>
  <path d="M1020,135 Q980,150 940,170 L400,490 Q300,570 250,650 Q200,740 200,900 L235,950" fill="none"/>
</g>
<!-- compressor: zoom origin (1370,720) scale 6.105 -->
<g transform="translate(1370,720) scale(0.1638)" stroke="#000" stroke-width="9" fill="none" stroke-linejoin="round" stroke-linecap="round">
  <path d="M420,190 Q350,140 250,190 Q120,300 100,480 Q100,600 200,650 L295,678" />
  <path d="M400,215 Q250,300 190,460 M395,250 Q300,320 265,390 M190,440 L175,600 L215,610 L215,480 Z"/>
  <path d="M400,205 L520,220 L720,335 L860,435 L1040,545 Q1070,560 1050,590 Q1100,620 1110,690 Q1100,750 1060,770 Q1090,760 1060,740 L1010,750 M1060,770 Q1030,800 1000,860 Q960,915 900,945 Q830,985 760,985 L720,970 L610,905 L585,870"/>
  <path d="M475,130 L515,100 L720,200 L745,280 L730,350 L700,300 L560,215 L490,190 Z" fill="#fff"/>
  <path d="M600,240 L690,300 M640,280 L655,350 M690,180 L720,240 L740,330" />
  <path d="M345,320 L540,215 M345,320 L350,370 Q400,360 430,390 Q420,420 380,415 M340,395 L380,380"/>
  <ellipse cx="345" cy="497" rx="66" ry="70"/>
  <path d="M290,520 Q250,540 255,575 Q275,620 340,580 M280,520 L300,545"/>
  <path d="M590,660 Q560,560 640,525 Q740,500 810,525 M680,520 Q700,545 705,580 M730,515 Q745,540 748,570 M790,600 Q830,640 790,670 L720,690 Q680,680 700,640 Q730,630 740,660"/>
  <path d="M215,660 Q230,720 300,760 L380,800 L500,850 L600,880 M550,690 L580,690 M660,700 L590,720 L580,760 L540,770"/>
  <ellipse cx="555" cy="815" rx="30" ry="45"/>
  <path d="M500,780 Q520,840 560,870 M610,770 Q620,830 590,870 M640,800 Q650,830 630,850 M590,880 Q610,920 640,930"/>
  <path d="M880,850 Q900,890 850,920 L800,890 L780,950 L740,960 M920,905 L950,920 M860,960 L900,945 M790,890 L830,880"/>
  <path d="M1020,560 L1060,580 M860,435 L870,445 M1000,755 L1070,735 L1080,770"/>
</g>
<!-- long bolt -->
<g stroke="#000" fill="#fff">
  <path d="M1327,842 L1375.5,814.8" stroke-width="5.6" stroke-linecap="round"/>
  <path d="M1330,840.2 L1358,824.6" stroke="#fff" stroke-width="2.6"/>
  <path d="M1362,822.5 L1375,815.2" stroke="#fff" stroke-width="1.4" stroke-dasharray="1.2 1.6"/>
  <circle cx="1325.3" cy="843" r="4.2" stroke-width="1.8"/>
  <circle cx="1325.3" cy="843" r="1.6" stroke-width="1.2"/>
</g>
<!-- FWD arrow -->
<g>
  <path d="M44.3,1044.4 L63.6,1012.8 L66.6,1017.2 L103.5,997.3 L107.9,999.6 L107.9,1025.1 L67.5,1046.2 L67.5,1055 Z" fill="#000"/>
  <path d="M46.5,1043.5 L63.5,1015.5" stroke="#fff" stroke-width="1.2" fill="none"/>
  <path d="M68.5,1019.5 L103.5,1000.2" stroke="#fff" stroke-width="1" fill="none"/>
  <text transform="translate(67.6,1043.6) skewY(-27.5)" style="font-family:'Liberation Sans',sans-serif;font-weight:bold;font-size:24.5px;fill:#fff" textLength="38.5" lengthAdjust="spacingAndGlyphs">FWD</text>
</g>

<!-- leaders.svg -->
<g class="ln" stroke-width="1.4">
  <!-- simple leaders -->
  <path d="M311.4,39.4 H358.6"/>
  <path d="M447.8,78.5 H495"/>
  <path d="M304.7,119.5 H351.9"/>
  <path d="M424.9,166.7 V202 M424.9,226.6 V240.7 H331.6 V148.1 M378.8,240.7 V254.2"/>
  <path d="M279.3,323.7 V370.1"/>
  <path d="M194.7,360.6 V411"/>
  <path d="M760.2,65.5 H806.8"/>
  <path d="M752.1,143.5 V157.2 M712.2,166.8 V157.2 H790.8 V200.3"/>
  <path d="M712.8,191.6 V204.7"/>
  <path d="M568.1,262.9 H616.1"/>
  <path d="M1132.2,106.6 H1178.8"/>
  <path d="M1098.1,233.8 V246.9 M1058.5,312.4 V246.9 H1136.6 V260"/>
  <path d="M1136.6,286.2 V305.1"/>
  <path d="M1074.7,365.5 V409.2"/>
  <path d="M1263.1,439.2 V485.7"/>
  <path d="M635.1,429 H678.8"/>
  <path d="M796.9,535.1 V583.1"/>
  <path d="M480,597.6 V644.1"/>
  <path d="M534.4,695.4 V743.5"/>
  <path d="M162.2,735.1 V780.3"/>
  <path d="M213.2,806.5 V901.1 H251 V888 M231.2,901.1 V915.7"/>
  <path d="M251,828.3 V861.8"/>
  <path d="M471.3,975.6 V1021.4"/>
  <path d="M297.2,1053 H346.5"/>
  <path d="M735.3,841.4 H749.6"/>
  <path d="M1368.7,629.3 V674.4"/>
  <path d="M1300.9,827.3 H1347.4"/>
  <path d="M1344.1,80.5 V122.8"/>
  <path d="M1389.8,141.2 H1434.9"/>
  <!-- arrows to A / B -->
  <path d="M272,393.3 L308.8,381.9 M297.9,378.3 L308.8,381.9 L300.6,390.6"/>
  <path d="M478.4,1026.6 L503,1019.6 M492,1016.3 L503,1019.6 L495.3,1028"/>
</g>
<g class="dl" stroke-width="1.4">
  <path d="M373.7,129.6 L409,144.8" stroke-dasharray="7 5"/>
  <path d="M437.7,165 L485.1,182.8 L652.5,88.2 L687.5,101.3"/>
  <path d="M205,363.3 L235.1,382.4" stroke-dasharray="7 5"/>
  <path d="M1077.5,356 L1110.2,341" stroke-dasharray="7 5"/>
  <path d="M832.2,575.5 V650" stroke-dasharray="7 5"/>
  <path d="M824.3,573.3 L832.6,568.7" stroke-dasharray="none"/>
  <path d="M540.5,684.5 L765,823"/>
  <path d="M418.6,1044.2 L464.3,1030.8"/>
  <path d="M1381,811.3 L1415.9,793.8 M1433.3,814.2 L1462.5,831.7"/>
  <path d="M1398.4,855 L1459.6,837.5"/>
  <path d="M1436.3,878.3 L1456.6,871 M1421.7,850.6 L1456.6,865.2" stroke-dasharray="8 5"/>
</g>

<!-- labels.svg -->
<g>
<use href="#ast" x="29.7" y="27.9"/>
<use href="#ast" x="280.0" y="31.5"/>
<use href="#ast" x="500.5" y="70.8"/>
<use href="#ast" x="275.4" y="113.8"/>
<use href="#ast" x="413.5" y="204.4"/>
<use href="#ast" x="367.0" y="260.3"/>
<use href="#ast" x="268.4" y="304.7"/>
<use href="#ast" x="183.8" y="415.2"/>
<use href="#ast" x="811.8" y="58.5"/>
<use href="#ast" x="739.9" y="125.2"/>
<use href="#ast" x="700.6" y="171.2"/>
<use href="#ast" x="1101.6" y="99.3"/>
<use href="#ast" x="1085.0" y="214.0"/>
<use href="#ast" x="1122.9" y="265.2"/>
<use href="#ast" x="1063.0" y="414.1"/>
<use href="#ast" x="1252.2" y="418.0"/>
<use href="#ast" x="603.7" y="423.0"/>
<use href="#ast" x="785.9" y="516.0"/>
<use href="#ast" x="467.3" y="578.6"/>
<use href="#ast" x="521.3" y="749.0"/>
<use href="#ast" x="150.6" y="714.8"/>
<use href="#ast" x="240.3" y="866.8"/>
<use href="#ast" x="219.6" y="922.1"/>
<use href="#ast" x="459.8" y="955.0"/>
<use href="#ast" x="265.6" y="1045.3"/>
<use href="#ast" x="704.2" y="834.2"/>
<text class="t" transform="translate(63.7,39.6) scale(1,1.197)" textLength="86.5" lengthAdjust="spacingAndGlyphs" xml:space="preserve">REFER TO</text>
<text class="t" transform="translate(63.7,61.7) scale(1,1.197)" textLength="96.5" lengthAdjust="spacingAndGlyphs" xml:space="preserve">FIG 87-18</text>
<text class="t" transform="translate(471.0,258.7) scale(1,1.197)" textLength="87.0" lengthAdjust="spacingAndGlyphs" xml:space="preserve">REFER TO</text>
<text class="t" transform="translate(471.0,280.4) scale(1,1.197)" textLength="96.5" lengthAdjust="spacingAndGlyphs" xml:space="preserve">FIG 84-01</text>
<text class="t" transform="translate(1297.7,52.0) scale(1,1.197)" textLength="86.5" lengthAdjust="spacingAndGlyphs" xml:space="preserve">REFER TO</text>
<text class="t" transform="translate(1297.7,73.5) scale(1,1.197)" textLength="96.5" lengthAdjust="spacingAndGlyphs" xml:space="preserve">FIG 87-15</text>
<text class="t" transform="translate(1440.4,137.0) scale(1,1.197)" textLength="86.5" lengthAdjust="spacingAndGlyphs" xml:space="preserve">REFER TO</text>
<text class="t" transform="translate(1440.4,158.8) scale(1,1.197)" textLength="96.5" lengthAdjust="spacingAndGlyphs" xml:space="preserve">FIG 87-15</text>
<text class="t" transform="translate(1339.2,623.5) scale(1,1.265)" textLength="70.0" lengthAdjust="spacingAndGlyphs" xml:space="preserve">88310B</text>
<text class="t" transform="translate(1202.9,823.2) scale(1,1.197)" textLength="87.0" lengthAdjust="spacingAndGlyphs" xml:space="preserve">REFER TO</text>
<text class="t" transform="translate(1202.9,845.0) scale(1,1.197)" textLength="97.0" lengthAdjust="spacingAndGlyphs" xml:space="preserve">FIG 87-19</text>
<text transform="translate(1489.7,1072) scale(1,1.12)" textLength="63.5" lengthAdjust="spacingAndGlyphs" style="font-family:'Liberation Mono',monospace;font-size:17.6px;fill:#000">168179</text>
<rect x="313.2" y="370.4" width="19.4" height="19.4" fill="#fff" stroke="#000" stroke-width="1.7"/>
<text x="322.9" y="385.4" text-anchor="middle" style="font-family:'Liberation Sans',sans-serif;font-weight:bold;font-size:15px;fill:#000">A</text>
<rect x="505.5" y="1005.3" width="20.3" height="19.9" fill="#fff" stroke="#000" stroke-width="1.7" stroke-dasharray="1.6 0.9"/>
<text x="515.6" y="1020.8" text-anchor="middle" style="font-family:'Liberation Sans',sans-serif;font-weight:bold;font-size:15px;fill:#000">B</text>
<rect x="1370.1" y="849.1" width="19.4" height="19.7" fill="#fff" stroke="#000" stroke-width="1.7"/>
<text x="1379.8" y="864.4" text-anchor="middle" style="font-family:'Liberation Sans',sans-serif;font-weight:bold;font-size:15px;fill:#000">A</text>
<rect x="1413.8" y="872.7" width="19.6" height="20.8" fill="#fff" stroke="#000" stroke-width="1.7" stroke-dasharray="1.6 0.9"/>
<text x="1423.6" y="889.1" text-anchor="middle" style="font-family:'Liberation Sans',sans-serif;font-weight:bold;font-size:15px;fill:#000">B</text>
</g>

<!-- watermark.svg -->
<g style="mix-blend-mode:multiply" fill="#c4c4c4" stroke="none">
  <path d="M489,491 L526,491 L479,539.5 L610.5,539.5 L586,564.5 Q580,570.5 571,570.5 L482,570.5 Q475,570.5 470,566 L450,546 Q443.5,539.5 450,533 Z"/>
  <path d="M573,491 L627,491 L602,516 L543,516 L566,493 Q568,491 573,491 Z"/>
  <path d="M670.2,515.4 L670.2,548 Q670.2,554 666,558 L611,612.7 L572.7,612.7 Z"/>
  <path d="M736,468 L779,468 L726.3,519.7 L726.3,540.1 L818.3,540.1 L794,564.5 Q788,570.3 780,570.3 L709,570.3 Q695.4,570.3 695.4,557 L695.4,512 Q695.4,506 700,501.5 Z"/>
  <path d="M727,581.5 L781,581.5 L760.3,603 L700.8,603 L721,583.5 Q723,581.5 727,581.5 Z"/>
  <path d="M730,611.3 L750,611.3 L733,630 L708,630 L725,613 Q727,611.3 730,611.3 Z"/>
  <path fill-rule="evenodd" d="M887.3,483.5 L931.1,483.5 L961.6,513.4 L961.6,548 Q961.6,554.5 957,559.5 L907.6,612.1 L865.3,612.1 L905.4,571.1 L873,571.1 Q866,571.1 861,566.5 L840.5,546.5 Q833,539.5 840.5,532 Z M900.1,514.9 L960.5,514.9 L937,539.5 L876,539.5 Z"/>
  <path d="M1028.2,468.1 L1070.3,468.1 L1018.2,520.9 L1018.2,539.5 L1110.9,539.5 L1087,565 Q1081.6,570.4 1074,570.4 L1001,570.4 Q987.2,570.4 987.2,557 L987.2,516 Q987.2,510 991.5,505.5 Z"/>
  <path d="M1089,491.4 L1144,491.4 L1119.7,516 L1060.3,516 L1083,493.5 Q1085,491.4 1089,491.4 Z"/>
</g>

</svg>
</body></html>
